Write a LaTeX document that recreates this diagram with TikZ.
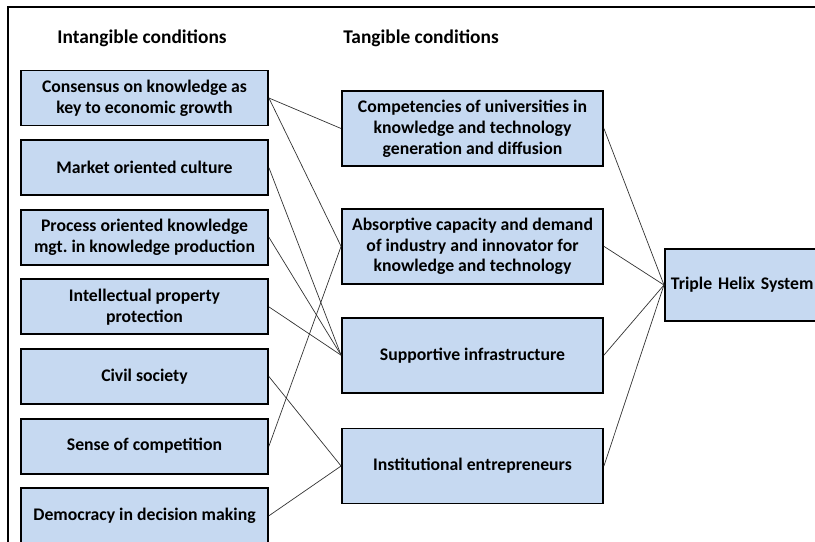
\documentclass[tikz,border=0pt]{standalone}
\usepackage{fontspec}
\setmainfont{Carlito}
\frenchspacing
\usetikzlibrary{positioning}
\definecolor{boxblue}{HTML}{C6D9F1}

\begin{document}
\begin{tikzpicture}[
        cond/.style={draw=black, line width=1.3pt, fill=boxblue, align=center, inner sep=2pt,
            font=\bfseries\fontsize{12.6}{14.8}\selectfont},
        intang/.style={cond, minimum width=6.175cm, minimum height=1.375cm},
        tang/.style={cond, minimum width=6.525cm, minimum height=1.875cm},
        head/.style={font=\bfseries\fontsize{13.8}{16}\selectfont},
        link/.style={draw=black!80, line width=0.5pt}]
        \clip (0,0) rectangle (20.375,-13.525);
        \draw[line width=1.4pt] (0.2,-13.8) -- (0.2,-0.175) -- (20.6,-0.175);
        \node[head] (intanghead) at (3.55,-0.95) {Intangible conditions};
        \node[head] (tanghead) at (10.525,-0.95) {Tangible conditions};
        % intangible conditions
        \node[intang] (consensus) at (3.6125,-2.45) {Consensus on knowledge as\\key to economic growth};
        \node[intang, below=0.32cm of consensus] (market) {Market oriented culture};
        \node[intang, below=0.32cm of market] (process) {Process oriented knowledge\\mgt. in knowledge production};
        \node[intang, below=0.32cm of process] (property) {Intellectual property\\protection};
        \node[intang, below=0.32cm of property] (civil) {Civil society};
        \node[intang, below=0.32cm of civil] (competition) {Sense of competition};
        \node[intang, below=0.32cm of competition] (democracy) {Democracy in decision making};
        % tangible conditions
        \node[tang] (univ) at (11.8125,-3.2125) {Competencies of universities in\\knowledge and technology\\generation and diffusion};
        \node[tang, below=1.025cm of univ] (absorb) {Absorptive capacity and demand\\of industry and innovator for\\knowledge and technology};
        \node[tang, below=0.8cm of absorb] (infra) {Supportive infrastructure};
        \node[tang, below=0.85cm of infra] (entre) {Institutional entrepreneurs};
        \node[cond, anchor=west, minimum height=1.8cm, text width=3.95cm, align=left, inner xsep=0.15cm]
            (ths) at (16.6,-7.125) {Triple Helix System};
        % links
        \draw[link] (consensus.east) -- (univ.west);
        \draw[link] (consensus.east) -- (absorb.west);
        \draw[link] (market.east) -- (infra.west);
        \draw[link] (process.east) -- (infra.west);
        \draw[link] (property.east) -- (infra.west);
        \draw[link] (civil.east) -- (entre.west);
        \draw[link] (competition.east) -- (absorb.west);
        \draw[link] (democracy.east) -- (entre.west);
        \draw[link] (univ.east) -- (ths.west);
        \draw[link] (absorb.east) -- (ths.west);
        \draw[link] (infra.east) -- (ths.west);
        \draw[link] (entre.east) -- (ths.west);
\end{tikzpicture}
\end{document}
